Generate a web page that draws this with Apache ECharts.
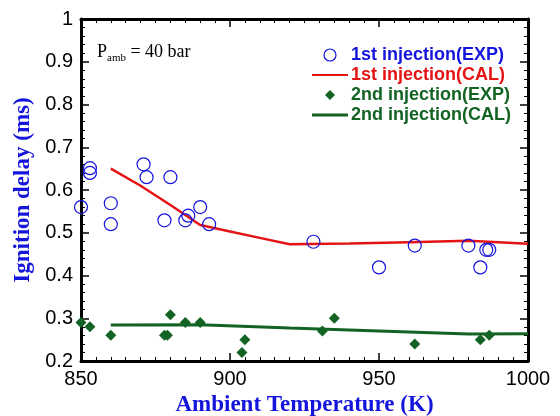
<!DOCTYPE html>
<html>
<head>
<meta charset="utf-8">
<script src="https://cdn.jsdelivr.net/npm/echarts@6/dist/echarts.min.js"></script>
<style>
  body { margin: 0; background: #fff; }
</style>
</head>
<body>
<div id="chart" style="width:560px;height:416px"></div>
<script>
// 1st injection, experiment (K, ms)
var exp1T = [850, 853, 853, 860, 860, 871, 872, 878, 880, 885, 886, 890, 893, 928, 950, 962, 980, 984, 986, 987];
var exp1D = [0.56, 0.651, 0.64, 0.569, 0.52, 0.66, 0.63, 0.529, 0.63, 0.529, 0.54, 0.56, 0.52, 0.479, 0.419, 0.47, 0.47, 0.419, 0.46, 0.46];
// 1st injection, calculation
var cal1T = [860, 870, 880, 890, 900, 910, 920, 940, 960, 980, 1000];
var cal1D = [0.65, 0.61, 0.565, 0.518, 0.503, 0.488, 0.473, 0.475, 0.478, 0.481, 0.474];
// 2nd injection, experiment
var exp2T = [850, 853, 860, 878, 879, 880, 885, 890, 904, 905, 931, 935, 962, 984, 987];
var exp2D = [0.29, 0.28, 0.26, 0.26, 0.26, 0.308, 0.29, 0.29, 0.22, 0.25, 0.27, 0.3, 0.24, 0.25, 0.26];
// 2nd injection, calculation
var cal2T = [860, 890, 920, 950, 980, 1000];
var cal2D = [0.284, 0.285, 0.277, 0.27, 0.263, 0.264];

var names = ["1st injection(EXP)", "1st injection(CAL)", "2nd injection(EXP)", "2nd injection(CAL)"];

var blue = "#1414dc";
var red = "#e41414";
var green = "#136424";

function pairs(xs, ys) {
  return xs.map(function (x, i) { return [x, ys[i]]; });
}

// legend icons: the lone M at each corner keeps the box 36x12 so nothing gets stretched
var iconCircle = "path://M0,0 M11.5,6 A6.5,6.5 0 1 1 24.5,6 A6.5,6.5 0 1 1 11.5,6 Z M36,12";
var iconLine1 = "path://M0,0 M0,5 L36,5 L36,7 L0,7 Z M36,12";
var iconDiamond = "path://M0,0 M18,1 L23,6 L18,11 L13,6 Z M36,12";
var iconLine2 = "path://M0,0 M0,4.5 L36,4.5 L36,7.5 L0,7.5 Z M36,12";

var chart = echarts.init(document.getElementById("chart"));

var axisLine = { show: true, lineStyle: { color: "#000", width: 3 } };
var majorTick = { inside: true, length: 8, lineStyle: { color: "#000", width: 1.5 } };

chart.setOption({
  animation: false,
  grid: { left: 81, right: 32, top: 19, bottom: 55, outerBoundsMode: "none" },
  legend: {
    orient: "vertical",
    left: 307,
    top: 41,
    itemWidth: 36,
    itemHeight: 12,
    itemGap: 2,
    textStyle: { fontFamily: "Liberation Sans", fontWeight: "bold", fontSize: 18, lineHeight: 17.5, padding: [0, 0, 0, -2] },
    data: [
      { name: names[0], icon: iconCircle, itemStyle: { color: "transparent", borderColor: blue, borderWidth: 1.2 }, textStyle: { color: blue } },
      { name: names[1], icon: iconLine1, itemStyle: { color: red, borderWidth: 0 }, textStyle: { color: red } },
      { name: names[2], icon: iconDiamond, itemStyle: { color: green, borderWidth: 0 }, textStyle: { color: green } },
      { name: names[3], icon: iconLine2, itemStyle: { color: green, borderWidth: 0 }, textStyle: { color: green } }
    ]
  },
  xAxis: [
    {
      type: "value",
      min: 850,
      max: 1000,
      interval: 50,
      axisLine: axisLine,
      axisTick: majorTick,
      minorTick: { show: true, splitNumber: 10, length: 4, lineStyle: { color: "#000", width: 1 } },
      splitLine: { show: false },
      axisLabel: { color: "#000", fontFamily: "Liberation Sans", fontSize: 20, margin: 8, formatter: function (v) { return String(v); } },
      name: "Ambient Temperature (K)",
      nameLocation: "middle",
      nameGap: 31,
      nameTextStyle: { color: blue, fontFamily: "Liberation Serif", fontWeight: "bold", fontSize: 23 }
    },
    {
      type: "value",
      position: "top",
      min: 850,
      max: 1000,
      interval: 50,
      axisLine: axisLine,
      axisTick: majorTick,
      minorTick: { show: true, splitNumber: 10, length: 4, lineStyle: { color: "#000", width: 1 } },
      splitLine: { show: false },
      axisLabel: { show: false }
    }
  ],
  yAxis: [
    {
      type: "value",
      min: 0.2,
      max: 1,
      interval: 0.1,
      axisLine: axisLine,
      axisTick: majorTick,
      minorTick: { show: true, splitNumber: 5, length: 4, lineStyle: { color: "#000", width: 1 } },
      splitLine: { show: false },
      axisLabel: {
        color: "#000",
        fontFamily: "Liberation Sans",
        fontSize: 20,
        margin: 8,
        formatter: function (v) { return +v.toFixed(1) + ""; }
      },
      name: "Ignition delay (ms)",
      nameLocation: "middle",
      nameGap: 44,
      nameTextStyle: { color: blue, fontFamily: "Liberation Serif", fontWeight: "bold", fontSize: 23 }
    },
    {
      type: "value",
      position: "right",
      min: 0.2,
      max: 1,
      interval: 0.1,
      axisLine: axisLine,
      axisTick: majorTick,
      minorTick: { show: true, splitNumber: 5, length: 4, lineStyle: { color: "#000", width: 1 } },
      splitLine: { show: false },
      axisLabel: { show: false }
    }
  ],
  graphic: [
    {
      type: "text",
      left: 97,
      top: 41,
      style: {
        text: "{p|P}{s|amb}{p| = 40 bar}",
        rich: {
          p: { fontFamily: "Liberation Serif", fontSize: 18, fill: "#000", lineHeight: 20 },
          s: { fontFamily: "Liberation Serif", fontSize: 11, fill: "#000", padding: [12, 0, 0, 0], lineHeight: 20 }
        }
      }
    }
  ],
  series: [
    {
      name: names[1],
      type: "line",
      data: pairs(cal1T, cal1D),
      symbol: "none",
      lineStyle: { color: red, width: 2.5 },
      itemStyle: { color: red },
      z: 2
    },
    {
      name: names[3],
      type: "line",
      data: pairs(cal2T, cal2D),
      symbol: "none",
      lineStyle: { color: green, width: 3 },
      itemStyle: { color: green },
      z: 2
    },
    {
      name: names[0],
      type: "scatter",
      data: pairs(exp1T, exp1D),
      symbol: "circle",
      symbolSize: 13,
      itemStyle: { color: "transparent", borderColor: blue, borderWidth: 1.2, opacity: 1 },
      z: 3
    },
    {
      name: names[2],
      type: "scatter",
      data: pairs(exp2T, exp2D),
      symbol: "diamond",
      symbolSize: 11,
      itemStyle: { color: green, opacity: 1 },
      z: 3
    }
  ]
});
</script>
</body>
</html>
